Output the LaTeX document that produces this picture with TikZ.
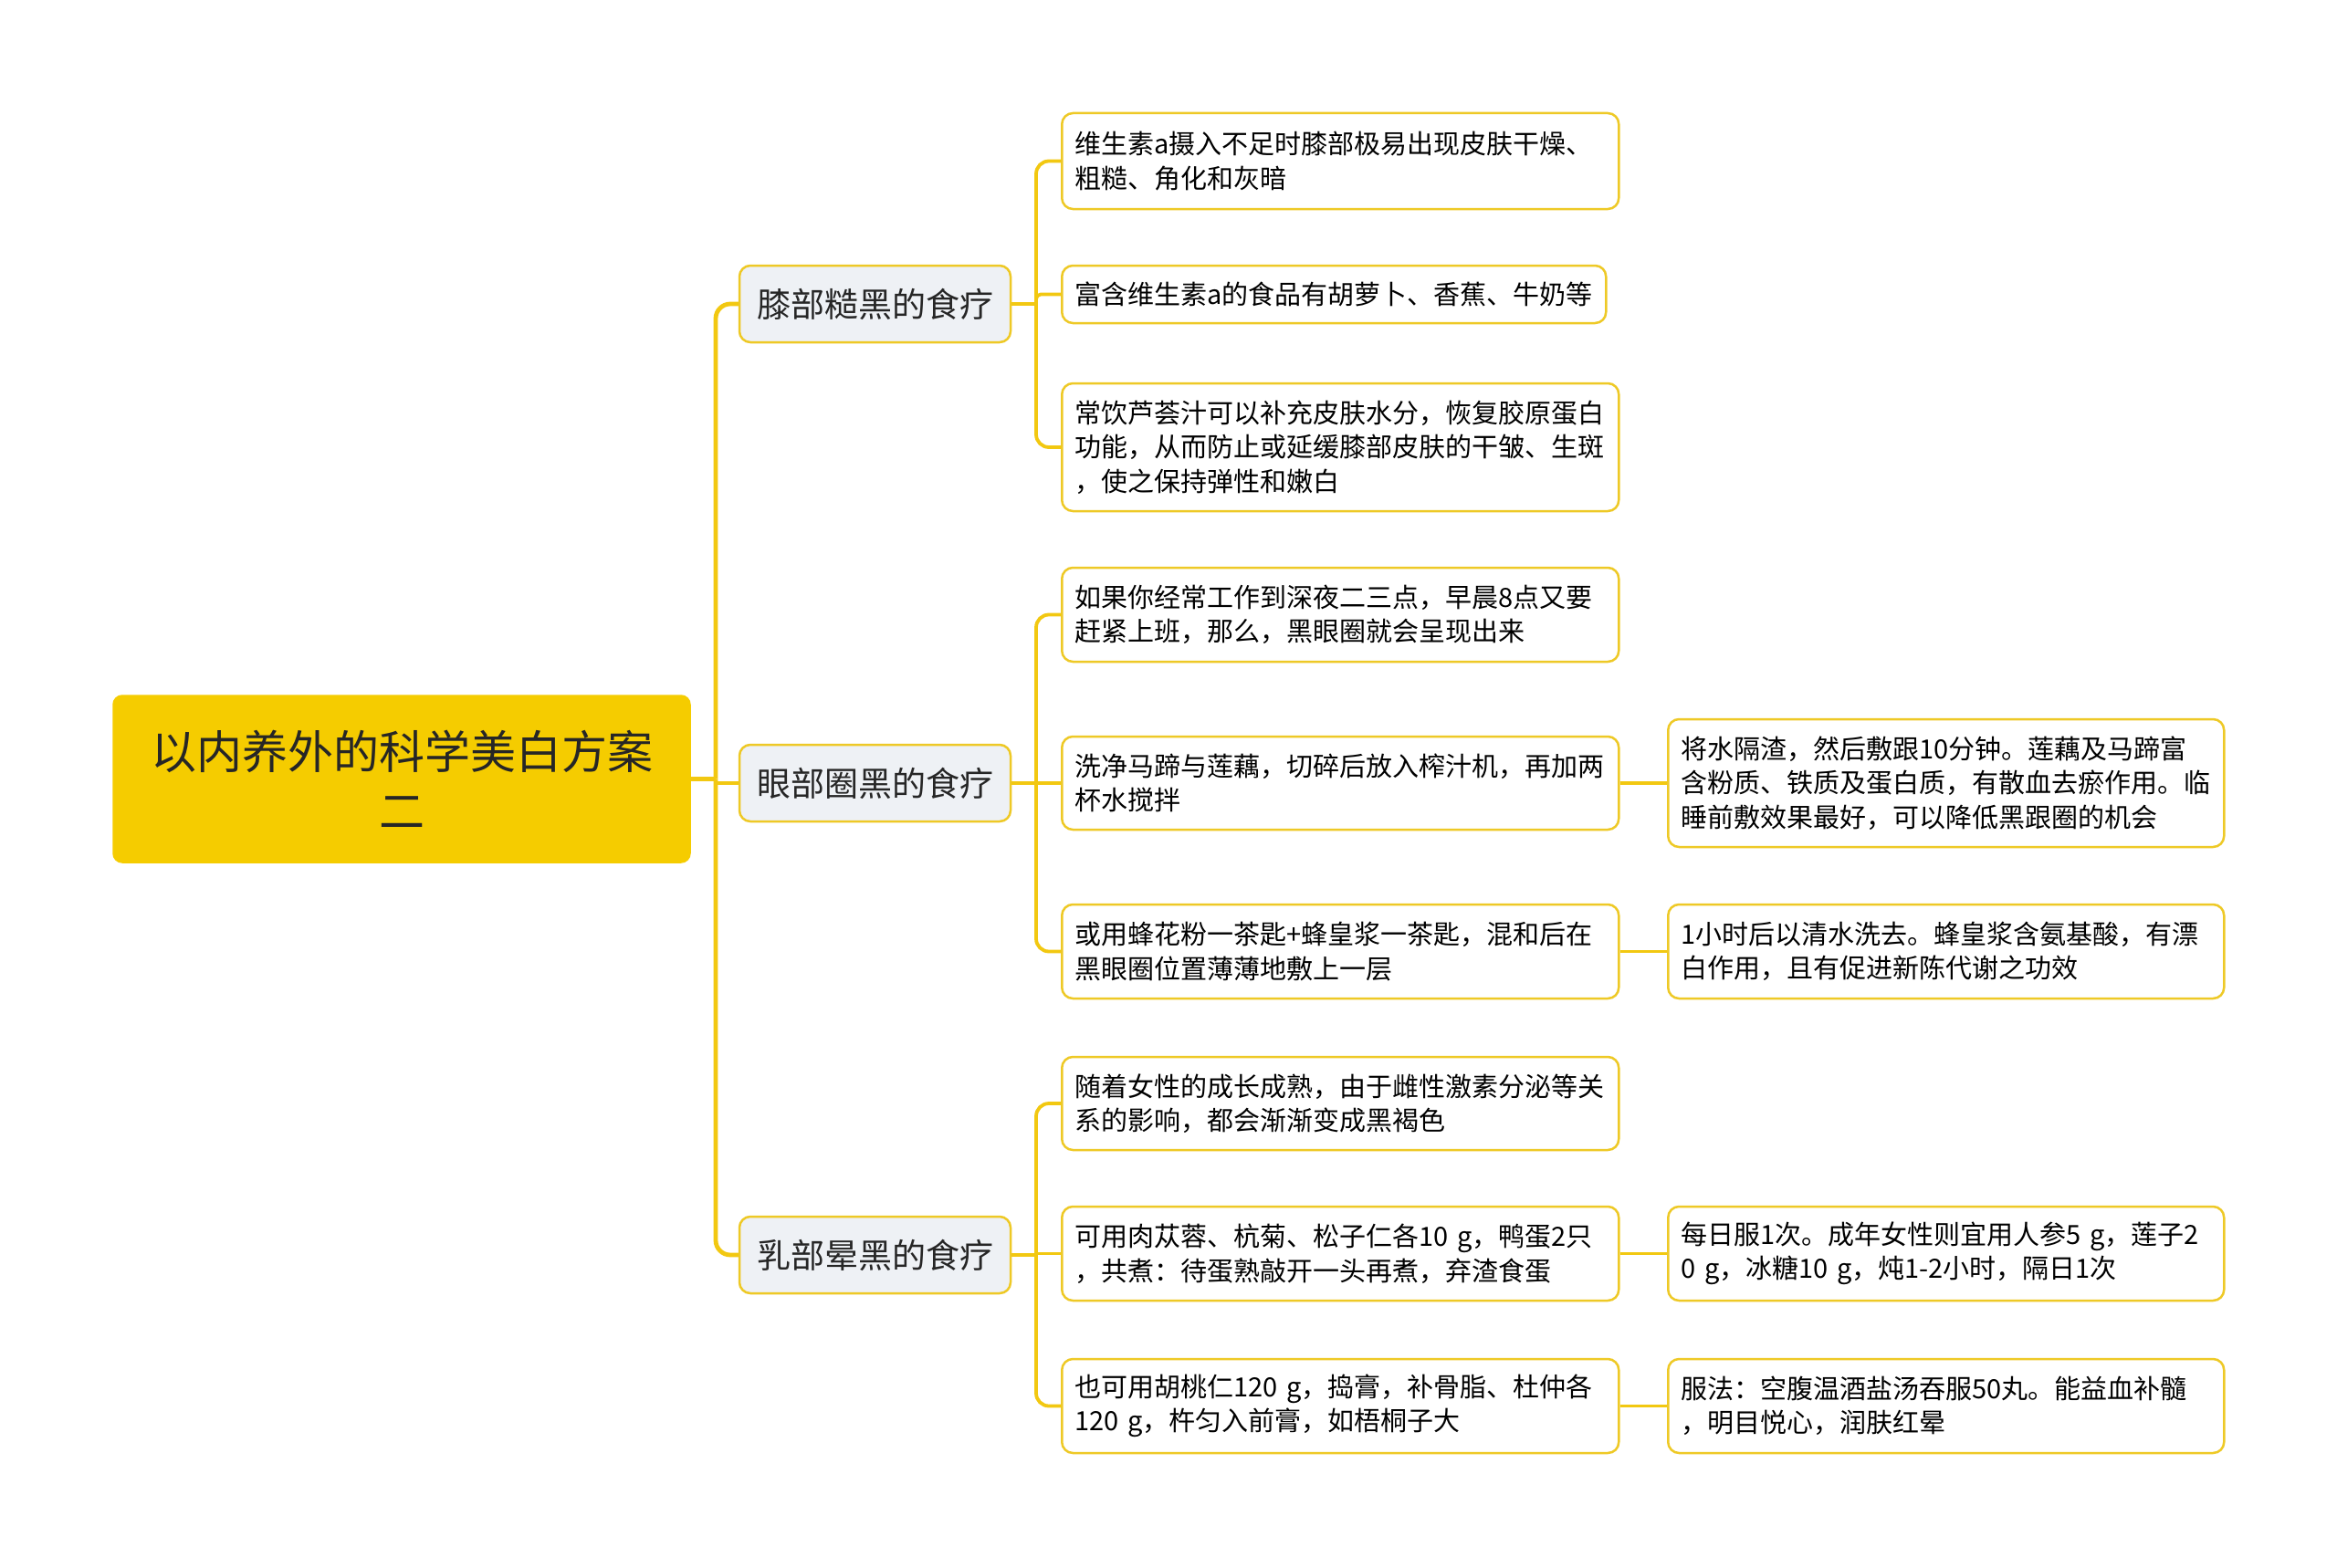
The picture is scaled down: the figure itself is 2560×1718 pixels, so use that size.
\documentclass[tikz,border=0pt]{standalone}
\usepackage{fontspec}
\setmainfont{Noto Sans CJK SC}
\definecolor{lineY}{HTML}{F2C811}
\definecolor{rootY}{HTML}{F5CC00}
\definecolor{boxB}{HTML}{EEC926}
\definecolor{grayF}{HTML}{EEF1F5}
\definecolor{txt}{HTML}{262626}
\tikzset{
  rootbox/.style={draw=rootY, fill=rootY, rounded corners=10pt, line width=1.5pt,
    minimum width=632pt, minimum height=183pt, text width=600pt, align=center,
    inner xsep=16pt, text=txt, font=\fontsize{50}{65}\selectfont},
  lvlone/.style={draw=boxB, fill=grayF, rounded corners=12pt, line width=2.5pt,
    minimum width=297pt, text width=265pt, inner xsep=16pt, minimum height=84pt, align=center,
    text=txt, font=\fontsize{37}{45}\selectfont},
  leafbox/.style={draw=boxB, fill=white, rounded corners=12pt, line width=2.5pt,
    text width=582pt, inner xsep=14pt, align=left, anchor=west,
    text=black, font=\fontsize{29}{37.5}\selectfont},
  conn/.style={draw=lineY, line width=4.8pt},
  connb/.style={draw=lineY, line width=3.8pt},
}
\begin{document}
\begin{tikzpicture}[x=1pt, y=-1pt]
\useasboundingbox[fill=white] (0,0) rectangle (2560,1718);

% root
\node[rootbox] (root) at (440,853.5) {以内养外的科学美白方案\\二};

% level one
\node[lvlone] (k1) at (958.5,333) {膝部糙黑的食疗};
\node[lvlone] (k2) at (958.5,858) {眼部圈黑的食疗};
\node[lvlone] (k3) at (958.5,1375) {乳部晕黑的食疗};

% level two
\node[leafbox, minimum height=105pt] (a1) at (1162,176.5) {维生素a摄入不足时膝部极易出现皮肤干燥、\\粗糙、角化和灰暗};
\node[leafbox, minimum height=63pt, text width=568pt] (a2) at (1162,322.5) {富含维生素a的食品有胡萝卜、香蕉、牛奶等};
\node[leafbox, minimum height=140pt] (a3) at (1162,490) {常饮芦荟汁可以补充皮肤水分，恢复胶原蛋白\\功能，从而防止或延缓膝部皮肤的干皱、生斑\\，使之保持弹性和嫩白};

\node[leafbox, minimum height=103pt] (b1) at (1162,673.5) {如果你经常工作到深夜二三点，早晨8点又要\\赶紧上班，那么，黑眼圈就会呈现出来};
\node[leafbox, minimum height=102pt] (b2) at (1162,858) {洗净马蹄与莲藕，切碎后放入榨汁机，再加两\\杯水搅拌};
\node[leafbox, minimum height=103pt] (b3) at (1162,1042.5) {或用蜂花粉一茶匙+蜂皇浆一茶匙，混和后在\\黑眼圈位置薄薄地敷上一层};

\node[leafbox, minimum height=102pt] (c1) at (1162,1209) {随着女性的成长成熟，由于雌性激素分泌等关\\系的影响，都会渐渐变成黑褐色};
\node[leafbox, minimum height=103pt] (c2) at (1162,1373.5) {可用肉苁蓉、杭菊、松子仁各10 g，鸭蛋2只\\，共煮：待蛋熟敲开一头再煮，弃渣食蛋};
\node[leafbox, minimum height=103pt] (c3) at (1162,1540.5) {也可用胡桃仁120 g，捣膏，补骨脂、杜仲各\\120 g，杵匀入前膏，如梧桐子大};

% level three
\node[leafbox, minimum height=140pt, text width=581pt] (b2x) at (1826,858) {将水隔渣，然后敷跟10分钟。莲藕及马蹄富\\含粉质、铁质及蛋白质，有散血去瘀作用。临\\睡前敷效果最好，可以降低黑跟圈的机会};
\node[leafbox, minimum height=103pt, text width=581pt] (b3x) at (1826,1042.5) {1小时后以清水洗去。蜂皇浆含氨基酸，有漂\\白作用，且有促进新陈代谢之功效};
\node[leafbox, minimum height=103pt, text width=581pt] (c2x) at (1826,1373.5) {每日服1次。成年女性则宜用人参5 g，莲子2\\0 g，冰糖10 g，炖1-2小时，隔日1次};
\node[leafbox, minimum height=103pt, text width=581pt] (c3x) at (1826,1540.5) {服法：空腹温酒盐汤吞服50丸。能益血补髓\\，明目悦心，润肤红晕};

% connectors: root to level one
\coordinate (j0) at (784,853.5);
\draw[conn] (root.east) -- (j0);
\draw[conn, rounded corners=16pt] (j0) |- (k1.west);
\draw[conn] (j0) |- (k2.west);
\draw[conn, rounded corners=16pt] (j0) |- (k3.west);

% level one to level two
\coordinate (j1) at (1135,333);
\coordinate (j2) at (1135,858);
\coordinate (j3) at (1135,1375);
\draw[connb] (k1.east) -- (j1);
\draw[connb, rounded corners=14pt] (j1) |- (a1.west);
\draw[connb, rounded corners=5pt] (j1) |- (a2.west);
\draw[connb, rounded corners=14pt] (j1) |- (a3.west);
\draw[connb] (k2.east) -- (j2);
\draw[connb, rounded corners=14pt] (j2) |- (b1.west);
\draw[connb] (j2) -- (b2.west);
\draw[connb, rounded corners=14pt] (j2) |- (b3.west);
\draw[connb] (k3.east) -- (j3);
\draw[connb, rounded corners=14pt] (j3) |- (c1.west);
\draw[connb] (j3) |- (c2.west);
\draw[connb, rounded corners=14pt] (j3) |- (c3.west);

% level two to level three
\draw[connb] (b2.east) -- (b2x.west);
\draw[connb] (b3.east) -- (b3x.west);
\draw[connb] (c2.east) -- (c2x.west);
\draw[connb] (c3.east) -- (c3x.west);
\end{tikzpicture}
\end{document}
